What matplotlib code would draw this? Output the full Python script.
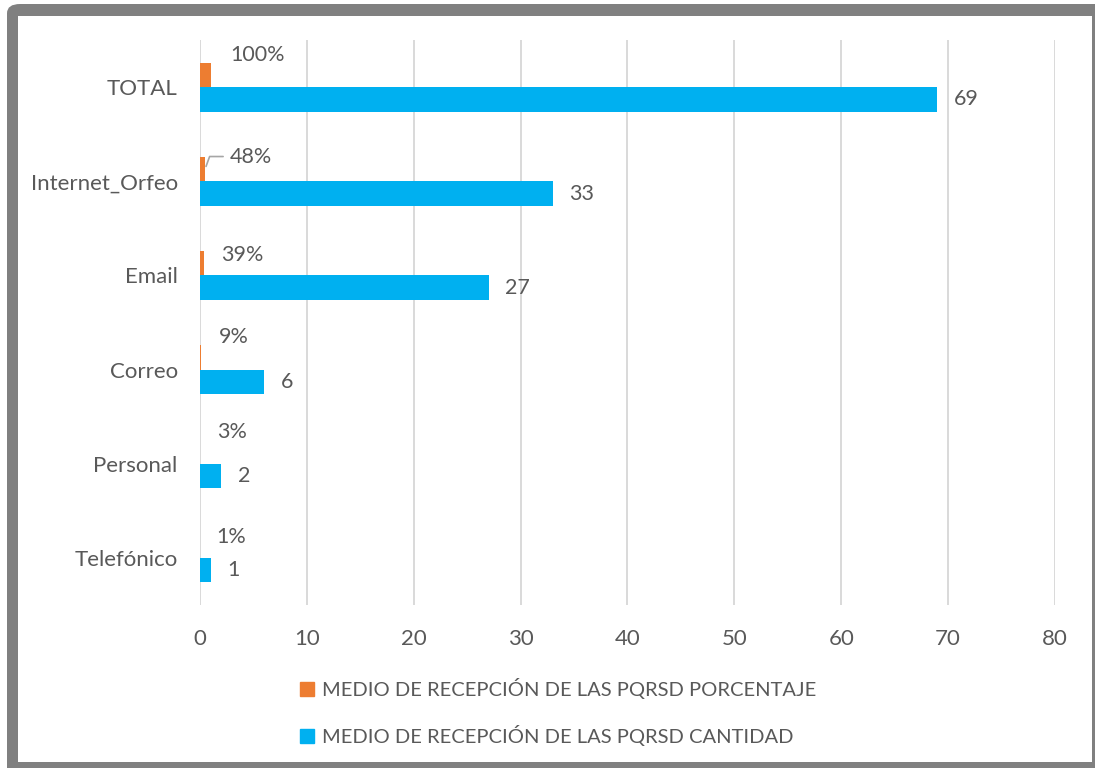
import numpy as np
import matplotlib.pyplot as plt
from matplotlib.patches import FancyBboxPatch, Rectangle, Patch

categorias = ['TOTAL', 'Internet_Orfeo', 'Email', 'Correo', 'Personal', 'Telefónico']
cantidad = [69, 33, 27, 6, 2, 1]
porcentaje = [1.00, 0.48, 0.39, 0.09, 0.03, 0.01]
etiquetas_pct = ['100%', '48%', '39%', '9%', '3%', '1%']

serie_pct = 'MEDIO DE RECEPCIÓN DE LAS PQRSD PORCENTAJE'
serie_cant = 'MEDIO DE RECEPCIÓN DE LAS PQRSD CANTIDAD'

naranja = '#ED7D31'
azul = '#00B0F0'
gris_txt = '#595959'

plt.rcParams['font.family'] = ['Lato', 'DejaVu Sans']

W, H = 1095, 768
fig = plt.figure(figsize=(W / 100, H / 100), dpi=100)

# marco gris: relleno gris que se sale por la derecha y abajo, y un interior blanco
fondo = FancyBboxPatch((7 / W, -30 / H), 1140 / W, (764 + 30) / H,
                       boxstyle='round,pad=0,rounding_size=0.012', transform=fig.transFigure,
                       facecolor='#808080', edgecolor='none', zorder=-2)
interior = Rectangle((18 / W, 6 / H), (1092 - 18) / W, (752 - 6) / H,
                     transform=fig.transFigure, facecolor='white', edgecolor='none', zorder=-1)
fig.patches.extend([fondo, interior])

ax = fig.add_axes([0.1826, 0.2122, 0.7809, 0.7357])
ax.patch.set_alpha(0)

y = np.arange(len(categorias))
h = 0.26
ax.barh(y - h / 2, porcentaje, height=h, color=naranja)
ax.barh(y + h / 2, cantidad, height=h, color=azul)

ax.set_xlim(0, 80)
ax.set_ylim(len(categorias) - 0.5, -0.5)
ax.set_xticks(range(0, 81, 10))
ax.set_yticks(y)
ax.set_yticklabels(categorias)
ax.tick_params(length=0, labelsize=16, colors=gris_txt)
ax.tick_params(axis='x', pad=17)
ax.tick_params(axis='y', pad=16)
ax.grid(axis='x', color='#d9d9d9', lw=1.4)
ax.set_axisbelow(True)
for s in ax.spines.values():
    s.set_visible(False)

# etiquetas de cantidad
for yi, v in zip(y, cantidad):
    ax.annotate(str(v), (v, yi + h / 2), xytext=(12, 0), textcoords='offset points',
                ha='left', va='center', fontsize=15.5, color=gris_txt)

# etiquetas de porcentaje (movidas a mano como en el original)
dx = [14, 18, 12, 13, 12, 12]
dy = [14, 9, 6, 15, 14, 6.5]
for i, (yi, v, t) in enumerate(zip(y, porcentaje, etiquetas_pct)):
    ax.annotate(t, (v, yi - h / 2), xytext=(dx[i], dy[i]), textcoords='offset points',
                ha='left', va='center', fontsize=15.5, color=gris_txt)

# linea guia de 48%
ax.annotate('', (porcentaje[1], y[1] - h / 2), xytext=(13, 9), textcoords='offset points',
            arrowprops=dict(arrowstyle='-', color='#a6a6a6', lw=1.2,
                            connectionstyle='angle,angleA=0,angleB=70,rad=0',
                            shrinkA=0, shrinkB=2))

handles = [Patch(color=naranja), Patch(color=azul)]
fig.legend(handles, [serie_pct, serie_cant], loc='center', bbox_to_anchor=(0.51, 0.073),
           frameon=False, fontsize=14.5, labelcolor=gris_txt, handlelength=0.7,
           handleheight=0.7, handletextpad=0.4, labelspacing=1.3)

fig.savefig('out.png', dpi=100)
